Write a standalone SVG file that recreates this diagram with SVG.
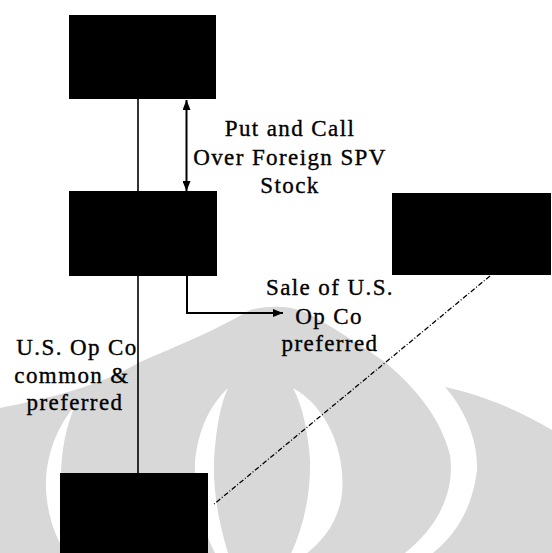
<svg xmlns="http://www.w3.org/2000/svg" width="552" height="553" viewBox="0 0 552 553">
  <style>
    .box { fill: #000000; }
    .lbl { font-family: "Liberation Serif", "Times New Roman", serif; font-size: 23px; letter-spacing: 1.4px; fill: #000000; stroke: #000000; stroke-width: 0.35px; text-anchor: middle; }
    .wm { fill: #d8d8d8; }
    .hole { fill: #ffffff; }
    .conn { fill: none; stroke: #000000; }
  </style>
  <defs>
    <marker id="ah" markerUnits="userSpaceOnUse" markerWidth="10" markerHeight="8" refX="10" refY="4" orient="auto-start-reverse">
      <path d="M0,0 L10,4 L0,8 Z" fill="#000000"/>
    </marker>
  </defs>
  <rect width="552" height="553" fill="#ffffff"/>

  <g id="watermark">
    <path class="wm" d="M0,408 C50,398 100,386 140,362 C180,345 220,328 250,310 C270,305 290,306 305,312 C330,325 360,345 385,362 C412,385 440,415 450,455 C455,490 440,525 405,553 L0,553 Z"/>
    <path class="wm" d="M445,387 C470,392 510,405 552,430 L552,553 L433,553 C455,535 472,510 477,470 C478,440 465,410 445,387 Z"/>
    <path class="hole" d="M75,405 C57,428 45,455 46,490 C48,520 57,540 66,553 L80,553 C68,530 61,505 61,478 C61,450 66,428 75,405 Z"/>
    <path class="hole" d="M228,388 C210,405 198,430 195,462 C194,495 203,530 215,553 L228,553 C218,520 213,490 214,460 C216,430 220,405 228,388 Z"/>
    <path class="hole" d="M293,388 C330,408 348,460 341,500 C335,530 315,548 298,560 L288,560 C303,530 311,495 310,460 C308,430 302,405 293,388 Z"/>
  </g>

  <g id="connectors">
    <line class="conn" x1="138" y1="99" x2="138" y2="473" stroke-width="1.6"/>
    <line class="conn" x1="186.5" y1="100" x2="186.5" y2="191" stroke-width="2" marker-start="url(#ah)" marker-end="url(#ah)"/>
    <path class="conn" d="M187,276 V313 H283" stroke-width="2" marker-end="url(#ah)"/>
    <line class="conn" x1="490" y1="276" x2="213" y2="505" stroke-width="1.3" stroke-dasharray="5 2 1 2"/>
  </g>

  <g id="node-top">
    <rect class="box" x="69" y="15" width="147" height="84"/>
  </g>
  <g id="node-middle">
    <rect class="box" x="69" y="191" width="148" height="85"/>
  </g>
  <g id="node-right">
    <rect class="box" x="392" y="193" width="159" height="82"/>
  </g>
  <g id="node-bottom">
    <rect class="box" x="60" y="473" width="148" height="80"/>
  </g>

  <g id="labels">
    <text class="lbl" x="290" y="136">Put and Call</text>
    <text class="lbl" x="290" y="165">Over Foreign SPV</text>
    <text class="lbl" x="290" y="193">Stock</text>
    <text class="lbl" x="330" y="295">Sale of U.S.</text>
    <text class="lbl" x="329" y="324">Op Co</text>
    <text class="lbl" x="330" y="351">preferred</text>
    <text class="lbl" x="77" y="355">U.S. Op Co</text>
    <text class="lbl" x="72" y="383">common &amp;</text>
    <text class="lbl" x="75" y="410">preferred</text>
  </g>
</svg>
